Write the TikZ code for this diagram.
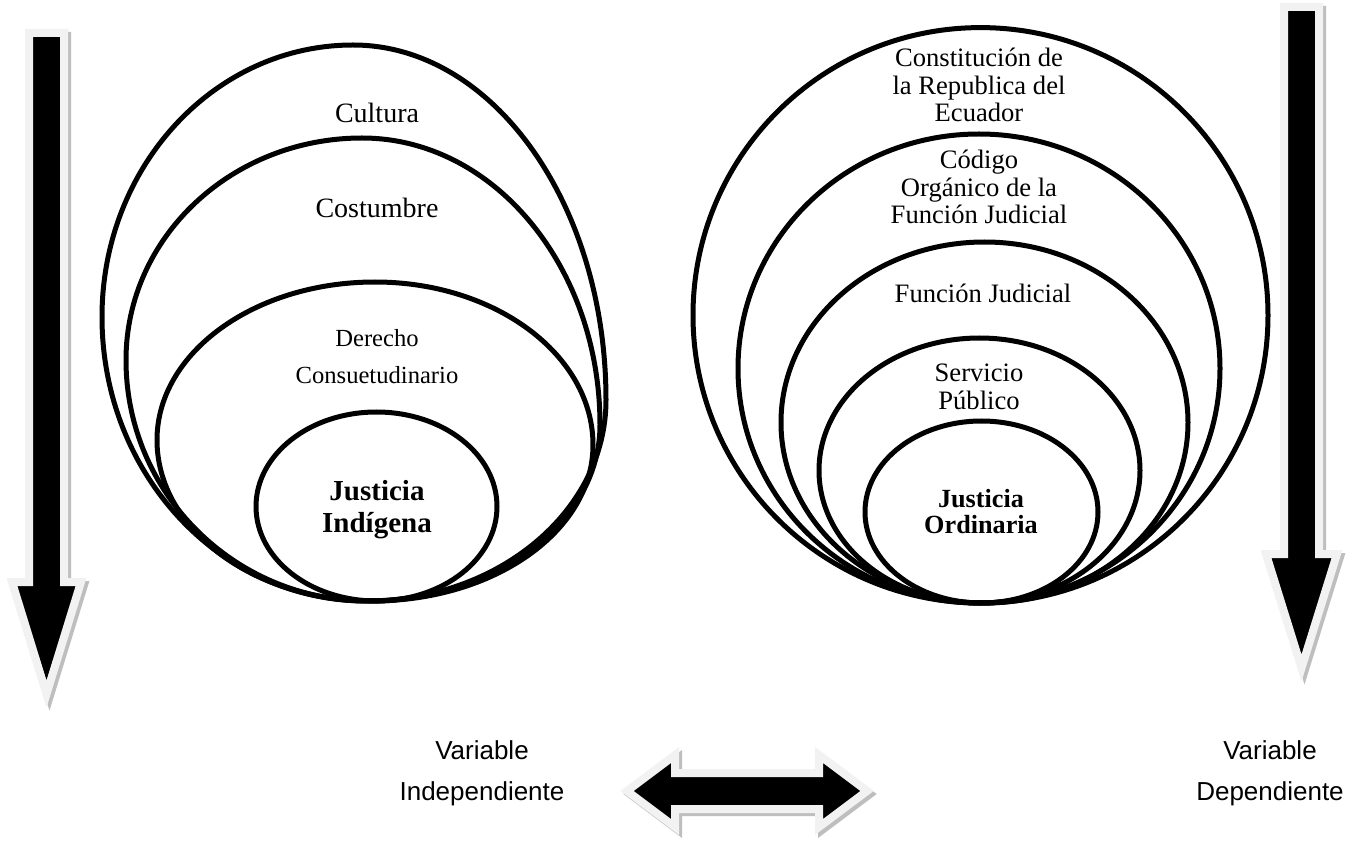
\documentclass[tikz,border=0pt]{standalone}
\usepackage{fontspec}
\setmainfont{Liberation Serif}
\setsansfont{Liberation Sans}
\definecolor{rim}{HTML}{F2F2F2}
\definecolor{shade}{HTML}{BEBEBE}
% oval through top, left, right and bottom extreme points
% #1 #2 top, #3 #4 left, #5 #6 right, #7 #8 bottom
\newcommand{\eggpath}[8]{%
 (#1,#2) .. controls ({#1+0.5523*(#5-#1)},#2) and (#5,{#6-0.5523*(#6-#2)}) .. (#5,#6)
 .. controls (#5,{#6+0.5523*(#8-#6)}) and ({#7+0.5523*(#5-#7)},#8) .. (#7,#8)
 .. controls ({#7-0.5523*(#7-#3)},#8) and (#3,{#4+0.5523*(#8-#4)}) .. (#3,#4)
 .. controls (#3,{#4-0.5523*(#4-#2)}) and ({#1-0.5523*(#1-#3)},#2) .. cycle}
\begin{document}
\begin{tikzpicture}[x=0.5pt,y=-0.5pt,
  ring/.style={draw=black,line width=2.5pt},
  blockarrow/.style={fill=black,draw=rim,line width=4pt,line join=miter},
  blockshadow/.style={fill=shade,draw=shade,line width=4pt,line join=miter},
  lbl/.style={inner sep=0pt,align=center,font=\fontsize{14}{15}\selectfont},
  lblsmall/.style={inner sep=0pt,align=center,font=\fontsize{12.3}{18.5}\selectfont},
  lblright/.style={inner sep=0pt,align=center,font=\fontsize{13.3}{13.9}\selectfont},
  core/.style={inner sep=0pt,align=center,font=\bfseries\fontsize{14.5}{16}\selectfont},
  coreright/.style={inner sep=0pt,align=center,font=\bfseries\fontsize{13.1}{13}\selectfont},
  varlbl/.style={inner sep=0pt,align=center,font=\sffamily\fontsize{13}{20.5}\selectfont}]
\useasboundingbox (0,0) rectangle (1351,845);
\fill[white] (0,0) rectangle (1351,845);

% ---- left vertical arrow
\begin{scope}[shift={(3,3)}]
\draw[blockshadow] (29,33) -- (64,33) -- (64,582) -- (81,582) -- (46.5,694) -- (12,582) -- (29,582) -- cycle;
\end{scope}
\draw[blockarrow] (29,33) -- (64,33) -- (64,582) -- (81,582) -- (46.5,694) -- (12,582) -- (29,582) -- cycle;

% ---- right vertical arrow
\begin{scope}[shift={(3,3)}]
\draw[blockshadow] (1284,7) -- (1319,7) -- (1319,554) -- (1337,554) -- (1301.5,668) -- (1266,554) -- (1284,554) -- cycle;
\end{scope}
\draw[blockarrow] (1284,7) -- (1319,7) -- (1319,554) -- (1337,554) -- (1301.5,668) -- (1266,554) -- (1284,554) -- cycle;

% ---- double arrow
\begin{scope}[shift={(3,3)}]
\draw[blockshadow] (627,791) -- (675,755) -- (675,773) -- (819,773) -- (819,755) -- (867,791) -- (819,827) -- (819,809) -- (675,809) -- (675,827) -- cycle;
\end{scope}
\draw[blockarrow] (627,791) -- (675,755) -- (675,773) -- (819,773) -- (819,755) -- (867,791) -- (819,827) -- (819,809) -- (675,809) -- (675,827) -- cycle;

% ---- left nested ovals
\draw[ring] \eggpath{353}{45}{102}{317}{606}{400}{366}{601};
\draw[ring] \eggpath{362}{138}{126}{360}{600}{425}{368}{601};
\draw[ring] \eggpath{375}{282}{157}{440}{593}{445}{372}{601};
\draw[ring] (376.5,506.5) ellipse [x radius=120.5, y radius=94.5];

\node[lbl] (cultura) at (377,113) {Cultura};
\node[lbl] (costumbre) at (377,208) {Costumbre};
\node[lblsmall] (derecho) at (377,357) {Derecho\\Consuetudinario};
\node[core] (jind) at (377,510) {Justicia\\Indígena};

% ---- right nested ellipses
\draw[ring] (980.5,315.3) ellipse [x radius=287.5, y radius=287.7];
\draw[ring] (979,368.5) ellipse [x radius=241, y radius=234.5];
\draw[ring] (984.5,422.5) ellipse [x radius=203.5, y radius=180.5];
\draw[ring] (979.5,470.5) ellipse [x radius=160.5, y radius=132.5];
\draw[ring] (981.5,512) ellipse [x radius=116.5, y radius=91];

\node[lblright] (constitucion) at (979,85) {Constitución de\\la Republica del\\Ecuador};
\node[lblright] (codigo) at (979,187) {Código\\Orgánico de la\\Función Judicial};
\node[lblright] (funcion) at (983,293) {Función Judicial};
\node[lblright] (servicio) at (979,387) {Servicio\\Público};
\node[coreright] (jord) at (981,512) {Justicia\\Ordinaria};

% ---- bottom labels
\node[varlbl] (vind) at (482,773) {Variable\\Independiente};
\node[varlbl] (vdep) at (1270,773) {Variable\\Dependiente};
\end{tikzpicture}
\end{document}
